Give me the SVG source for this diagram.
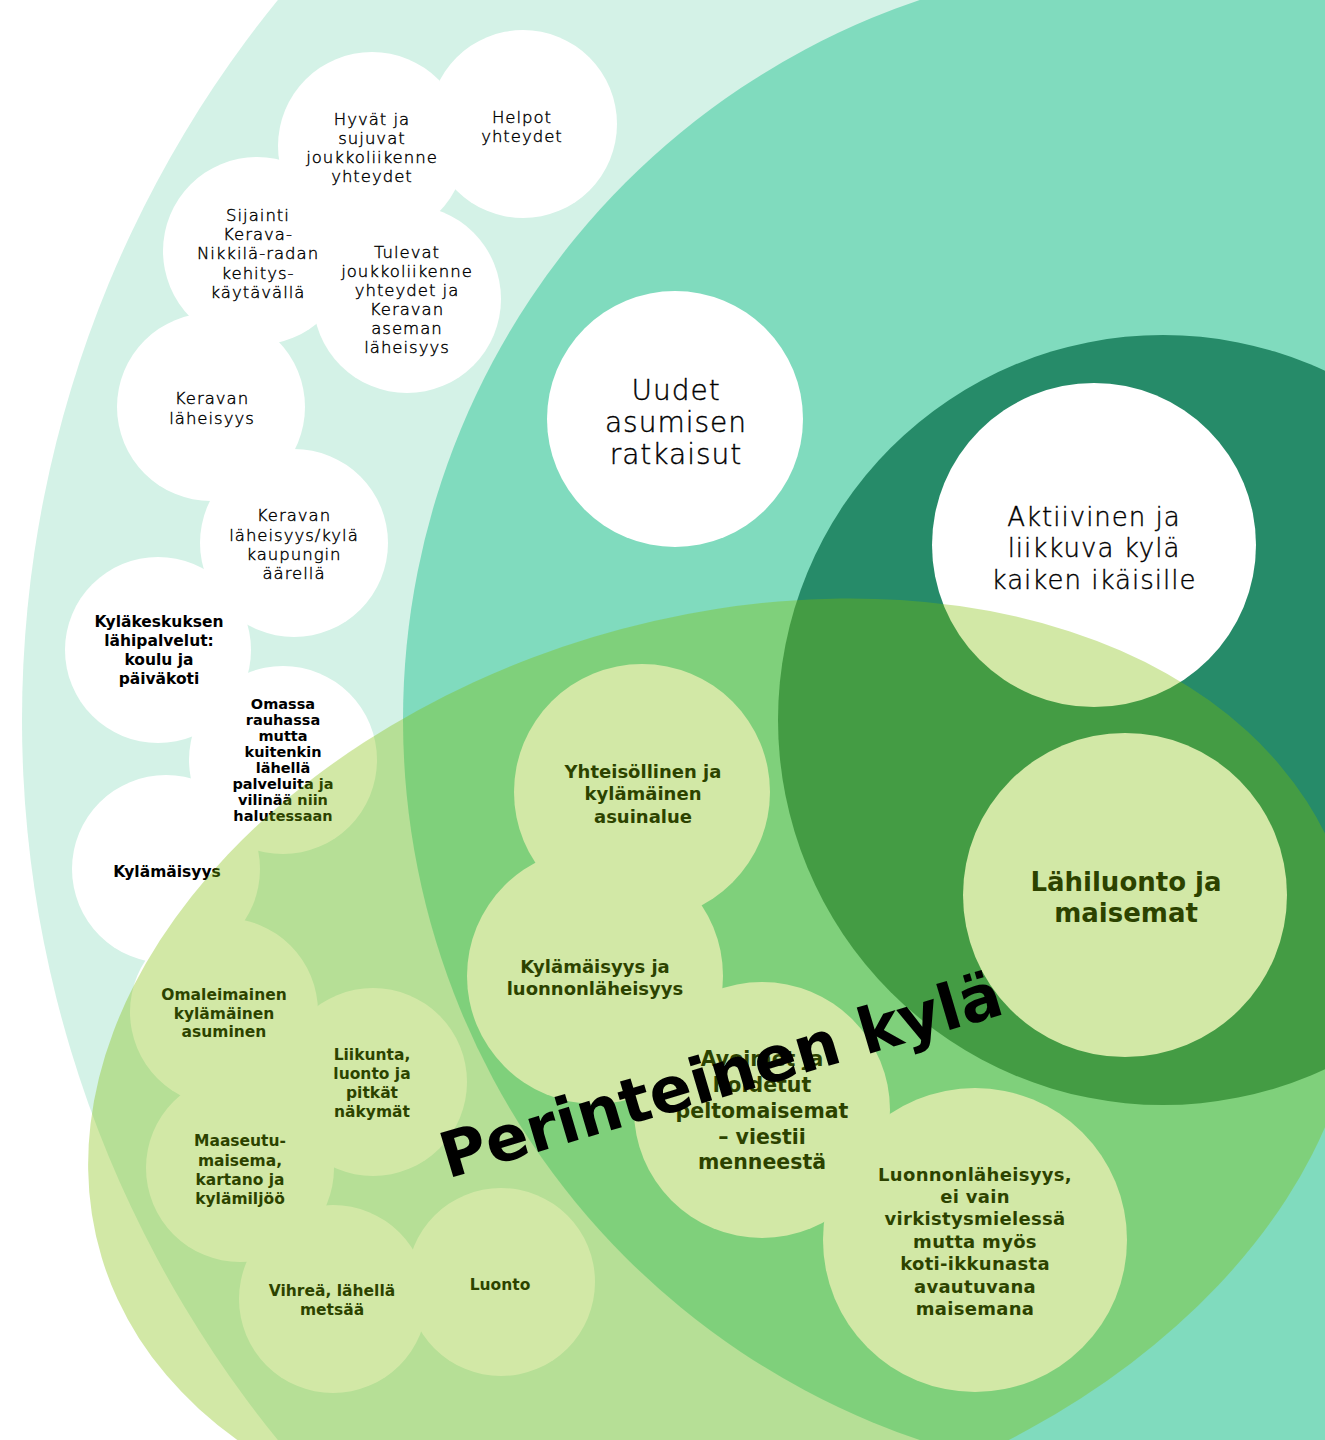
<svg xmlns="http://www.w3.org/2000/svg" width="1325" height="1440" viewBox="0 0 1325 1440">
<style>
.w{fill:#ffffff}
.lt{font-family:"DejaVu Sans","Verdana",sans-serif;font-weight:200;fill:#000000;stroke:#000000;stroke-width:0.4px;text-anchor:middle;letter-spacing:1px}
.bd{font-family:"DejaVu Sans","Verdana",sans-serif;font-weight:bold;fill:#000000;text-anchor:middle}
.s{font-size:16.5px}
.b{font-size:15.5px}
</style>
<rect width="1325" height="1440" fill="#ffffff"/>
<g id="zones">
<circle id="zone-outer" cx="1163" cy="720" r="1141" fill="#d4f2e7"/>
<circle id="zone-middle" cx="1163" cy="720" r="760" fill="#80dbbe"/>
<circle id="zone-inner" cx="1163" cy="720" r="385" fill="#268b69"/>
</g>
<g id="nodes">
<g id="n-helpot"><circle class="w" cx="523" cy="124" r="94"/><text class="lt s"><tspan x="522" y="123">Helpot</tspan><tspan x="522" y="142">yhteydet</tspan></text></g>
<g id="n-hyvat"><circle class="w" cx="372" cy="146" r="94"/><text class="lt s"><tspan x="372" y="125">Hyvät ja</tspan><tspan x="372" y="144">sujuvat</tspan><tspan x="372" y="163">joukkoliikenne</tspan><tspan x="372" y="182">yhteydet</tspan></text></g>
<g id="n-sijainti"><circle class="w" cx="257" cy="251" r="94"/><text class="lt s"><tspan x="258" y="221">Sijainti</tspan><tspan x="258" y="240">Kerava-</tspan><tspan x="258" y="259">Nikkilä-radan</tspan><tspan x="258" y="279">kehitys-</tspan><tspan x="258" y="298">käytävällä</tspan></text></g>
<g id="n-tulevat"><circle class="w" cx="407" cy="299" r="94"/><text class="lt s"><tspan x="407" y="258">Tulevat</tspan><tspan x="407" y="277">joukkoliikenne</tspan><tspan x="407" y="296">yhteydet ja</tspan><tspan x="407" y="315">Keravan</tspan><tspan x="407" y="334">aseman</tspan><tspan x="407" y="353">läheisyys</tspan></text></g>
<g id="n-keravan"><circle class="w" cx="211" cy="407" r="94"/><text class="lt s"><tspan x="212" y="404">Keravan</tspan><tspan x="212" y="424">läheisyys</tspan></text></g>
<g id="n-keravan-kyla"><circle class="w" cx="294" cy="543" r="94"/><text class="lt s"><tspan x="294" y="521">Keravan</tspan><tspan x="294" y="541">läheisyys/kylä</tspan><tspan x="294" y="560">kaupungin</tspan><tspan x="294" y="579">äärellä</tspan></text></g>
<g id="n-kylakeskus"><circle class="w" cx="158" cy="650" r="93"/><text class="bd b"><tspan x="159" y="626.5">Kyläkeskuksen</tspan><tspan x="159" y="645.5">lähipalvelut:</tspan><tspan x="159" y="664.5">koulu ja</tspan><tspan x="159" y="683.5">päiväkoti</tspan></text></g>
<g id="n-kylamaisyys"><circle class="w" cx="166" cy="869" r="94"/><text class="bd b"><tspan x="167" y="876.5">Kylämäisyys</tspan></text></g>
<g id="n-omassa"><circle class="w" cx="283" cy="760" r="94"/><text class="bd" font-size="14.5"><tspan x="283" y="709">Omassa</tspan><tspan x="283" y="725">rauhassa</tspan><tspan x="283" y="741">mutta</tspan><tspan x="283" y="757">kuitenkin</tspan><tspan x="283" y="773">lähellä</tspan><tspan x="283" y="789">palveluita ja</tspan><tspan x="283" y="805">vilinää niin</tspan><tspan x="283" y="821">halutessaan</tspan></text></g>
<g id="n-omaleimainen"><circle class="w" cx="224" cy="1012" r="94"/><text class="bd b"><tspan x="224" y="999.5">Omaleimainen</tspan><tspan x="224" y="1018.5">kylämäinen</tspan><tspan x="224" y="1036.5">asuminen</tspan></text></g>
<g id="n-liikunta"><circle class="w" cx="373" cy="1082" r="94"/><text class="bd b"><tspan x="372" y="1059.5">Liikunta,</tspan><tspan x="372" y="1078.5">luonto ja</tspan><tspan x="372" y="1097.5">pitkät</tspan><tspan x="372" y="1116.5">näkymät</tspan></text></g>
<g id="n-maaseutu"><circle class="w" cx="240" cy="1168" r="94"/><text class="bd b"><tspan x="240" y="1145.5">Maaseutu-</tspan><tspan x="240" y="1165.5">maisema,</tspan><tspan x="240" y="1184.5">kartano ja</tspan><tspan x="240" y="1203.5">kylämiljöö</tspan></text></g>
<g id="n-vihrea"><circle class="w" cx="333" cy="1299" r="94"/><text class="bd b"><tspan x="332" y="1295.5">Vihreä, lähellä</tspan><tspan x="332" y="1314.5">metsää</tspan></text></g>
<g id="n-luonto"><circle class="w" cx="501" cy="1282" r="94"/><text class="bd b"><tspan x="500" y="1289.5">Luonto</tspan></text></g>
<g id="n-yhteisollinen"><circle class="w" cx="642" cy="792" r="128"/><text class="bd" font-size="18"><tspan x="643" y="777.5">Yhteisöllinen ja</tspan><tspan x="643" y="799.5">kylämäinen</tspan><tspan x="643" y="822.5">asuinalue</tspan></text></g>
<g id="n-kylamaisyys-luonto"><circle class="w" cx="595" cy="976" r="128"/><text class="bd" font-size="18"><tspan x="595" y="972.5">Kylämäisyys ja</tspan><tspan x="595" y="994.5">luonnonläheisyys</tspan></text></g>
<g id="n-avoimet"><circle class="w" cx="762" cy="1110" r="128"/><text class="bd" font-size="20.5"><tspan x="762" y="1065.5">Avoimet ja</tspan><tspan x="762" y="1091.5">hoidetut</tspan><tspan x="762" y="1117.5">peltomaisemat</tspan><tspan x="762" y="1143.5">– viestii</tspan><tspan x="762" y="1168.5">menneestä</tspan></text></g>
<g id="n-luonnonlaheisyys"><circle class="w" cx="975" cy="1240" r="152"/><text class="bd" font-size="18" letter-spacing="0.3"><tspan x="975" y="1180.5">Luonnonläheisyys,</tspan><tspan x="975" y="1202.5">ei vain</tspan><tspan x="975" y="1224.5">virkistysmielessä</tspan><tspan x="975" y="1247.5">mutta myös</tspan><tspan x="975" y="1269.5">koti-ikkunasta</tspan><tspan x="975" y="1292.5">avautuvana</tspan><tspan x="975" y="1314.5">maisemana</tspan></text></g>
<g id="n-lahiluonto"><circle class="w" cx="1125" cy="895" r="162"/><text class="bd" font-size="26"><tspan x="1126" y="890.5">Lähiluonto ja</tspan><tspan x="1126" y="921.5">maisemat</tspan></text></g>
<g id="n-aktiivinen"><circle class="w" cx="1094" cy="545" r="162"/><text class="lt" font-size="26"><tspan x="1094" y="525.5">Aktiivinen ja</tspan><tspan x="1094" y="556.5">liikkuva kylä</tspan><tspan x="1094" y="588.5">kaiken ikäisille</tspan></text></g>
<g id="n-uudet"><circle class="w" cx="675" cy="419" r="128"/><text class="lt" font-size="28"><tspan x="676" y="400">Uudet</tspan><tspan x="676" y="432">asumisen</tspan><tspan x="676" y="464">ratkaisut</tspan></text></g>
</g>
<g id="connectors"></g>
<g id="perinteinen-kyla">
<ellipse cx="723" cy="1070" rx="649" ry="452" transform="rotate(-16.8 723 1070)" fill="#7ebd00" fill-opacity="0.35"/>
<text class="bd" font-size="63" transform="translate(727 1096) rotate(-16.5)" x="0" y="0">Perinteinen kylä</text>
</g>
</svg>
